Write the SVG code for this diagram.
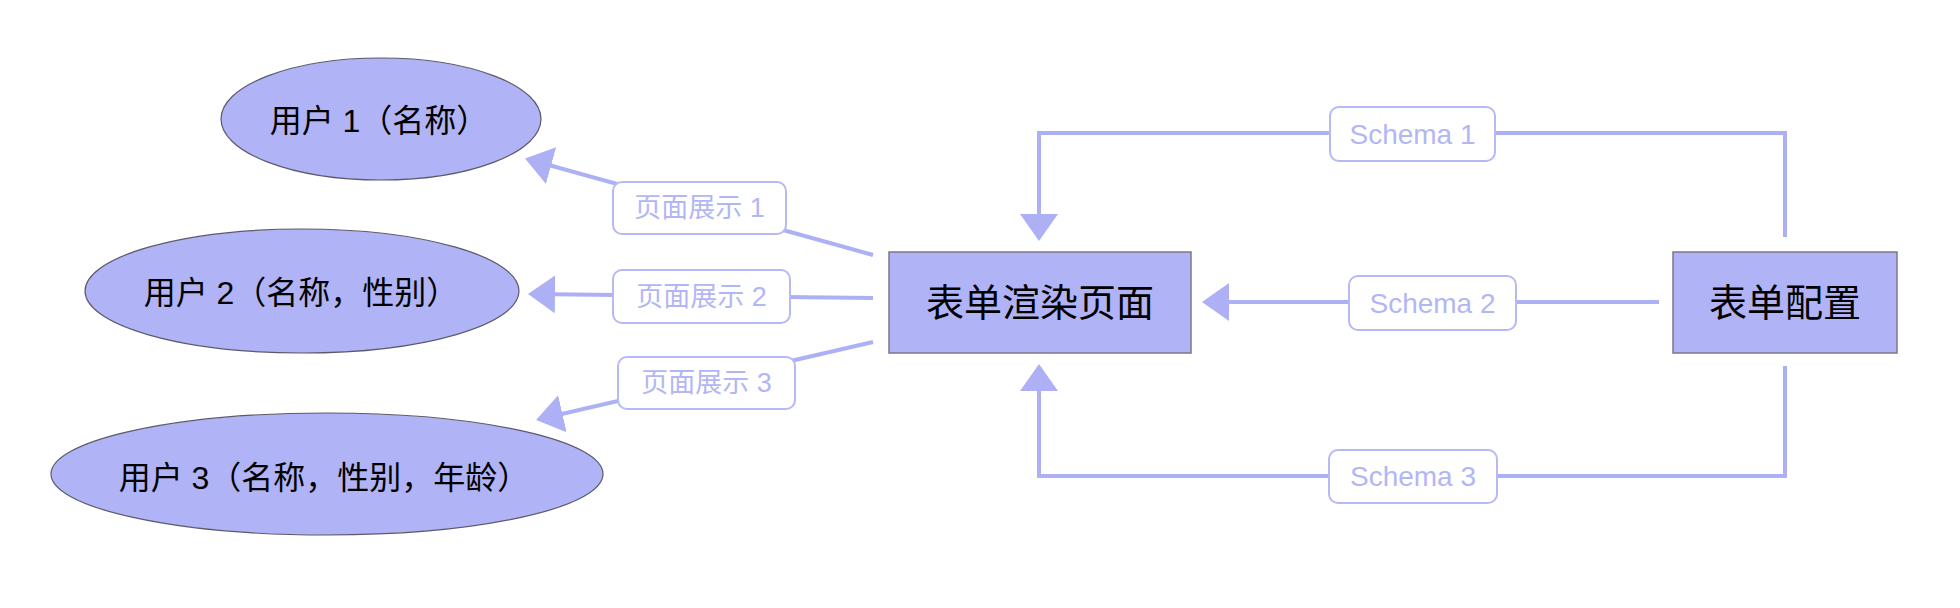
<svg xmlns="http://www.w3.org/2000/svg" width="1960" height="608" viewBox="0 0 1960 608">
<style>
.node{fill:#b0b3f6;}
.ell{stroke:#5a5a6a;stroke-width:1.2;}
.box{stroke:#7a7a8a;stroke-width:1.5;}
.nt{font-family:"Liberation Sans","Noto Sans CJK SC",sans-serif;fill:#000;text-anchor:middle;dominant-baseline:central;}
.edge{fill:none;stroke:#adb0f5;stroke-width:4;}
.lb{fill:#fff;stroke:#b6b9f6;stroke-width:2;}
.lt{font-family:"Liberation Sans","Noto Sans CJK SC",sans-serif;font-size:27px;fill:#b3b6f5;text-anchor:middle;dominant-baseline:central;}
.ls{font-size:28px;}
</style>
<defs>
<marker id="ah" markerUnits="userSpaceOnUse" markerWidth="30" markerHeight="40" refX="23" refY="19" orient="auto">
<path d="M0,0 L27,19 L0,38 Z" fill="#adb0f5"/>
</marker>
</defs>
<g id="connectors">
<path class="edge" d="M873,255 L528.9,159.5" marker-end="url(#ah)"/>
<path class="edge" d="M873,298 L532,294" marker-end="url(#ah)"/>
<path class="edge" d="M873,342 L540,419" marker-end="url(#ah)"/>
<path class="edge" d="M1785,237 V133 H1039 V237" marker-end="url(#ah)"/>
<path class="edge" d="M1659,302 H1206" marker-end="url(#ah)"/>
<path class="edge" d="M1785,366 V476 H1039 V368" marker-end="url(#ah)"/>
<g id="label-p1"><rect class="lb" x="613" y="182" width="173" height="52" rx="9"/><text class="lt" x="699.5" y="208">页面展示 1</text></g>
<g id="label-p2"><rect class="lb" x="613" y="270" width="177" height="53" rx="9"/><text class="lt" x="701.5" y="296.5">页面展示 2</text></g>
<g id="label-p3"><rect class="lb" x="618" y="357" width="177" height="52" rx="9"/><text class="lt" x="706.5" y="383">页面展示 3</text></g>
<g id="label-s1"><rect class="lb" x="1330" y="107" width="165" height="54" rx="9"/><text class="lt ls" x="1412.5" y="134">Schema 1</text></g>
<g id="label-s2"><rect class="lb" x="1349" y="276" width="167" height="54" rx="9"/><text class="lt ls" x="1432.5" y="303">Schema 2</text></g>
<g id="label-s3"><rect class="lb" x="1329" y="450" width="168" height="53" rx="9"/><text class="lt ls" x="1413" y="476.5">Schema 3</text></g>
</g>
<g id="user1"><ellipse class="node ell" cx="381" cy="119" rx="160" ry="61"/><text class="nt" x="379" y="121" font-size="32">用户 1（名称）</text></g>
<g id="user2"><ellipse class="node ell" cx="302" cy="291" rx="217" ry="62"/><text class="nt" x="301" y="293" font-size="32">用户 2（名称，性别）</text></g>
<g id="user3"><ellipse class="node ell" cx="327" cy="474" rx="276" ry="61"/><text class="nt" x="324" y="478" font-size="32">用户 3（名称，性别，年龄）</text></g>
<g id="render"><rect class="node box" x="889" y="252" width="302" height="101"/><text class="nt" x="1040" y="303" font-size="38">表单渲染页面</text></g>
<g id="config"><rect class="node box" x="1673" y="252" width="224" height="101"/><text class="nt" x="1785" y="303" font-size="38">表单配置</text></g>
</svg>
